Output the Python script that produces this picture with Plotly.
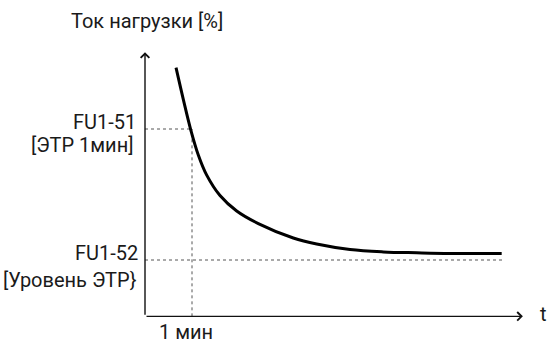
import plotly.graph_objects as go

# ---- data (time in minutes, load current in %) ----
time_min = [0.66, 0.815, 0.972, 1.134, 1.313, 1.596, 1.951, 2.411, 3.155, 3.653, 4.362, 5.070, 5.781, 6.489, 7.589]
load_pct = [173.4, 161.3, 149.8, 140.1, 132.4, 124.6, 118.7, 113.9, 108.4, 106.1, 104.0, 103.1, 102.75, 102.5, 102.5]

etr_1min_level = 150.0   # FU1-51
etr_level = 100.0        # FU1-52
one_min = 1.0
t_end = 7.6

y_label = "Ток нагрузки [%]"
x_label = "t"
fu151_lines = ["FU1-51", "[ЭТР 1мин]"]
fu152_lines = ["FU1-52", "[Уровень ЭТР}"]
x_tick_label = "1 мин"

# ---- layout constants ----
W, H = 547, 343
X0, X1 = -3.085, 8.553
Y0, Y1 = 68.32, 199.24
Y_ORIGIN = 78.5
X_TIP = 8.04
Y_TIP = 179.3
FONT = "Liberation Sans Narrow, Arial Narrow, Roboto, sans-serif"
TXT = "#1a1a1a"

fig = go.Figure()

# dotted reference lines
dot = dict(color="#555555", width=1, dash="dot")
fig.add_trace(go.Scatter(x=[0, one_min], y=[etr_1min_level, etr_1min_level],
                         mode="lines", line=dot, hoverinfo="skip"))
fig.add_trace(go.Scatter(x=[one_min, one_min], y=[Y_ORIGIN, etr_1min_level],
                         mode="lines", line=dot, hoverinfo="skip"))
fig.add_trace(go.Scatter(x=[0, t_end], y=[etr_level, etr_level],
                         mode="lines", line=dot, hoverinfo="skip"))

# curve
fig.add_trace(go.Scatter(x=time_min, y=load_pct, mode="lines",
                         line=dict(color="black", width=3, shape="spline", smoothing=1.0),
                         hoverinfo="skip"))

ann = []
# axes with arrows
for (xt, yt) in [(X_TIP, Y_ORIGIN), (0, Y_TIP)]:
    ann.append(dict(x=xt, y=yt, ax=0, ay=Y_ORIGIN, xref="x", yref="y", axref="x", ayref="y",
                    text="", showarrow=True, arrowhead=4, arrowsize=1.2, arrowwidth=1.4,
                    arrowcolor="#111111", standoff=0, startstandoff=0))

f = dict(family=FONT, size=20, color=TXT)
ann += [
    dict(x=0, y=etr_1min_level, text=fu151_lines[0], xanchor="right", yanchor="middle",
         xshift=-7, yshift=7, showarrow=False, font=f),
    dict(x=0, y=etr_1min_level, text=fu151_lines[1], xanchor="right", yanchor="middle",
         xshift=-10, yshift=-16, showarrow=False, font=f),
    dict(x=0, y=etr_level, text=fu152_lines[0], xanchor="right", yanchor="middle",
         xshift=-5, yshift=7, showarrow=False, font=f),
    dict(x=0, y=etr_level, text=fu152_lines[1], xanchor="right", yanchor="middle",
         xshift=-6, yshift=-20, showarrow=False, font=f),
    dict(x=one_min, y=Y_ORIGIN, text=x_tick_label, xanchor="center", yanchor="top",
         xshift=-6, yshift=-3, borderpad=0, showarrow=False, font=f),
    dict(x=X_TIP, y=Y_ORIGIN, text=x_label, xanchor="left", yanchor="middle",
         xshift=15, yshift=2, showarrow=False, font=f),
    dict(x=0, y=1 - 20.5 / H, yref="paper", text=y_label, xanchor="center", yanchor="middle",
         xshift=2, showarrow=False, font=f),
]

fig.update_layout(
    width=W, height=H, margin=dict(l=0, r=0, t=0, b=0),
    paper_bgcolor="white", plot_bgcolor="white", showlegend=False,
    xaxis=dict(range=[X0, X1], visible=False, fixedrange=True),
    yaxis=dict(range=[Y0, Y1], visible=False, fixedrange=True),
    annotations=ann,
)

fig.write_html("out.html", config={"displayModeBar": False},
               post_script="document.body.style.margin='0';document.body.style.overflow='hidden';")
